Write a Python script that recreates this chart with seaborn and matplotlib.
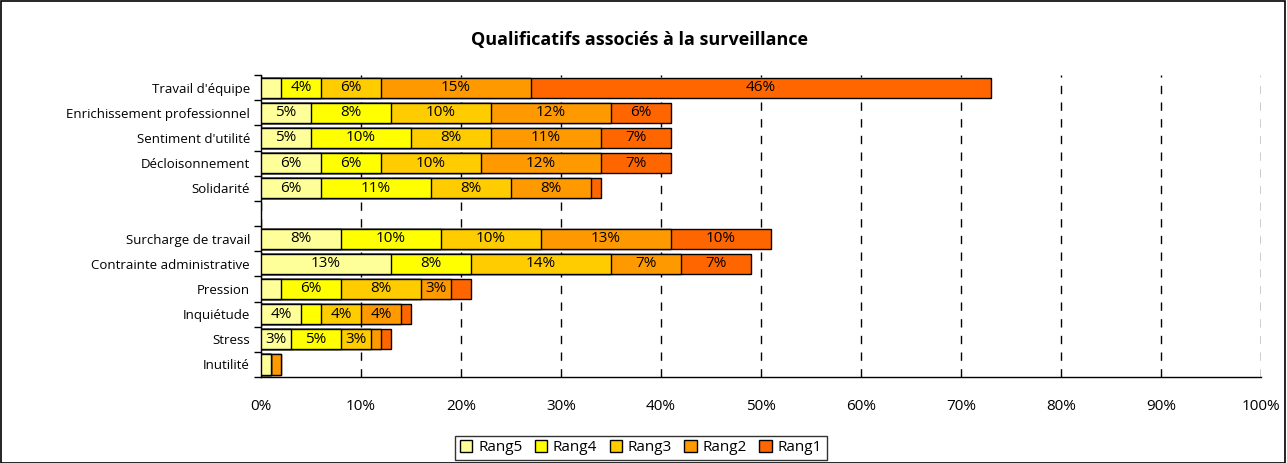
import numpy as np
import pandas as pd
import matplotlib
matplotlib.use('Agg')
import matplotlib.pyplot as plt
import matplotlib.patches as mpatches
from matplotlib.ticker import FixedLocator, MultipleLocator
import seaborn as sns

# data (percent of answers per rank)
categories = ["Travail d'équipe", "Enrichissement professionnel", "Sentiment d'utilité",
              "Décloisonnement", "Solidarité",
              "Surcharge de travail", "Contrainte administrative", "Pression",
              "Inquiétude", "Stress", "Inutilité"]
rang5 = [2, 5, 5, 6, 6, 8, 13, 2, 4, 3, 1]
rang4 = [4, 8, 10, 6, 11, 10, 8, 6, 2, 5, 0]
rang3 = [6, 10, 8, 10, 8, 10, 14, 8, 4, 3, 0]
rang2 = [15, 12, 11, 12, 8, 13, 7, 3, 4, 1, 1]
rang1 = [46, 6, 7, 7, 1, 10, 7, 2, 1, 1, 0]
series = ["Rang5", "Rang4", "Rang3", "Rang2", "Rang1"]
colors = ["#FFFF99", "#FFFF00", "#FFCC00", "#FF9900", "#FF6600"]

# empty slot between the two groups
order = categories[:5] + [" "] + categories[5:]

df = pd.DataFrame({"cat": categories, "Rang5": rang5, "Rang4": rang4,
                   "Rang3": rang3, "Rang2": rang2, "Rang1": rang1})
cum = df[series].cumsum(axis=1)

sns.set_style("white")
plt.rcParams['font.family'] = ['Open Sans', 'DejaVu Sans']
plt.rcParams['text.color'] = 'black'
plt.rcParams['xtick.color'] = 'black'
plt.rcParams['ytick.color'] = 'black'
plt.rcParams['xtick.labelcolor'] = 'black'
plt.rcParams['ytick.labelcolor'] = 'black'

fig = plt.figure(figsize=(12.87, 4.63), dpi=100)
ax = fig.add_axes([0.2028, 0.1857, 0.777, 0.6523])

# stacked bars: draw cumulative totals from the longest down
for s, c in reversed(list(zip(series, colors))):
    sns.barplot(x=cum[s], y=df["cat"], order=order, color=c, saturation=1, orient="h",
                width=0.8, edgecolor="black", linewidth=1, ax=ax, zorder=3)

# percentage labels inside segments
pos = {c: i for i, c in enumerate(order)}
for _, row in df.iterrows():
    left = 0
    for s in series:
        v = row[s]
        if v >= 3:
            ax.text(left + v / 2, pos[row["cat"]], f"{v}%", ha="center", va="center",
                    fontsize=11, color="black", zorder=4)
        left += v

ax.set_xlim(0, 100)
ax.set_ylim(len(order) - 0.5, -0.5)
ax.xaxis.set_major_locator(MultipleLocator(10))
ax.set_xticklabels([f"{int(t)}%" for t in ax.get_xticks()])
ax.tick_params(axis="x", labelsize=11, length=0, pad=16)
ax.tick_params(axis="y", which="major", length=0, labelsize=9.5, pad=8)
ax.yaxis.set_minor_locator(FixedLocator(np.arange(-0.5, len(order), 1)))
ax.tick_params(axis="y", which="minor", length=5, width=1, color="black", direction="out", left=True)
ax.set_xlabel("")
ax.set_ylabel("")
ax.grid(axis="x", color="black", linestyle=(0, (6, 6)), linewidth=1, zorder=0)
ax.set_axisbelow(True)
for side in ["top", "right"]:
    ax.spines[side].set_visible(False)
for side in ["left", "bottom"]:
    ax.spines[side].set_color("black")
    ax.spines[side].set_linewidth(1)

fig.text(0.497, 0.9136, "Qualificatifs associés à la surveillance", ha="center", va="center",
         fontsize=13, fontweight="bold", color="black")

handles = [mpatches.Patch(facecolor=c, edgecolor="black", label=s) for s, c in zip(series, colors)]
leg = fig.legend(handles=handles, loc="center", bbox_to_anchor=(0.498, 0.033), ncol=5,
                 frameon=True, fancybox=False, fontsize=11, handlelength=0.8,
                 handleheight=0.8, handletextpad=0.4, columnspacing=0.8,
                 borderpad=0.3, borderaxespad=0)
leg.get_frame().set_edgecolor("black")
leg.get_frame().set_linewidth(1)

fig.add_artist(mpatches.Rectangle((0.0005, 0.001), 0.998, 0.997, transform=fig.transFigure,
                                  fill=False, edgecolor="black", linewidth=1.2))

fig.savefig("out.png", dpi=100)
